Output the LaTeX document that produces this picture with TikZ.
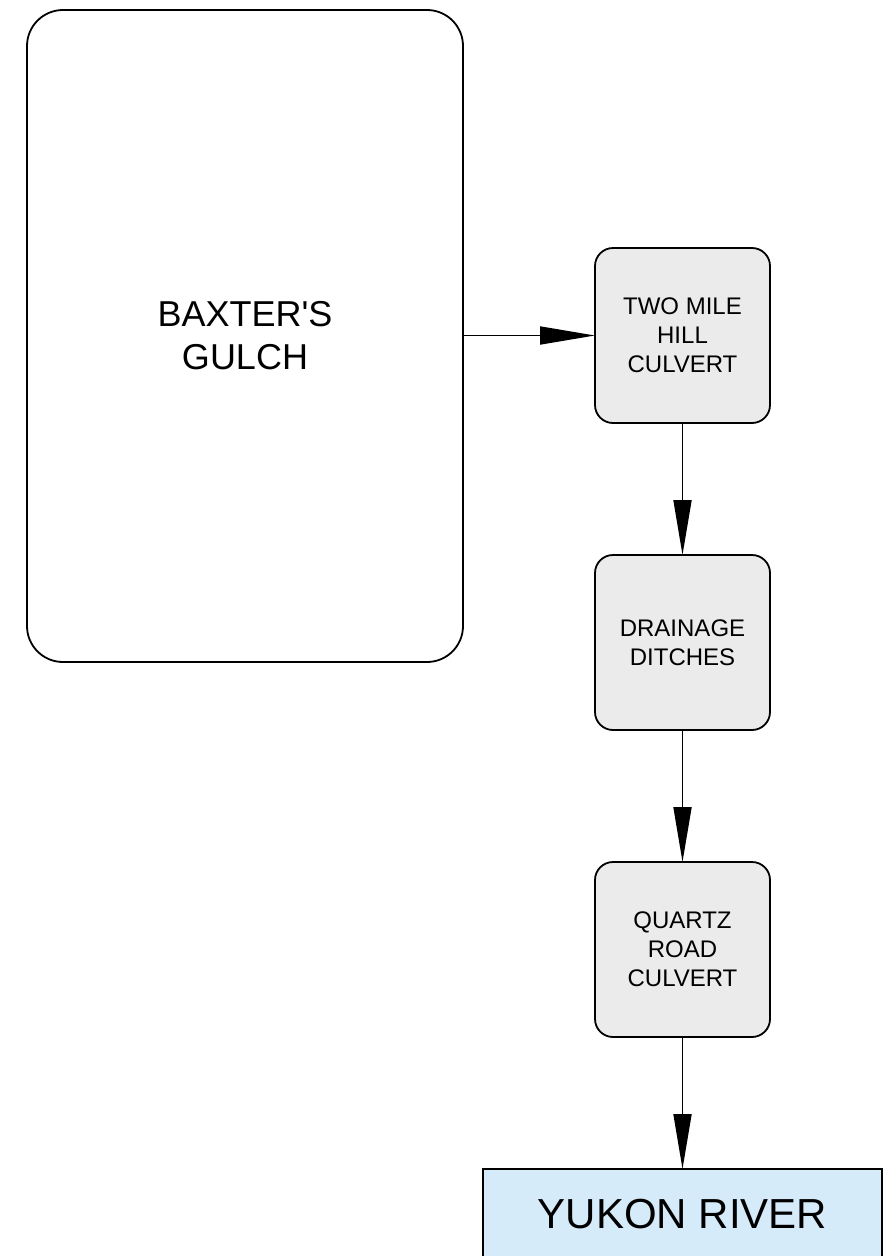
\documentclass[tikz,border=0pt]{standalone}
\usepackage{fontspec}
\setmainfont{Liberation Sans}[Ligatures=TeXOff]
\usetikzlibrary{arrows.meta}
\definecolor{boxgray}{HTML}{EBEBEB}
\definecolor{riverblue}{HTML}{D6EBF9}
\begin{document}
\begin{tikzpicture}[x=1pt,y=-1pt,
  every node/.style={inner sep=0pt,outer sep=0pt,align=center,line width=1.8pt},
  bigbox/.style={draw=black,rounded corners=36pt,minimum width=436pt,minimum height=652pt,
    font=\fontsize{36}{43}\selectfont},
  smallbox/.style={draw=black,fill=boxgray,rounded corners=18pt,minimum width=175pt,minimum height=175pt,
    font=\fontsize{24}{28.8}\selectfont},
  riverbox/.style={draw=black,fill=riverblue,minimum width=399pt,minimum height=90pt,
    font=\fontsize{42}{50}\selectfont},
  flow/.style={line width=1.8pt,-{Triangle[length=55pt,width=18pt]}}]
\useasboundingbox (0,0) rectangle (895,1256);
\node[bigbox] (gulch) at (245,336) {BAXTER'S\\GULCH};
\node[smallbox] (tmh) at (682.5,335.5) {TWO MILE\\HILL\\CULVERT};
\node[smallbox] (dd) at (682.5,642.5) {DRAINAGE\\DITCHES};
\node[smallbox] (qrc) at (682.5,949.5) {QUARTZ\\ROAD\\CULVERT};
\node[riverbox] (yr) at (682.5,1214) {YUKON RIVER};
\draw[flow] (gulch.east |- tmh.west) -- (tmh.west);
\draw[flow] (tmh.south) -- (dd.north);
\draw[flow] (dd.south) -- (qrc.north);
\draw[flow] (qrc.south) -- (yr.north);
\end{tikzpicture}
\end{document}
